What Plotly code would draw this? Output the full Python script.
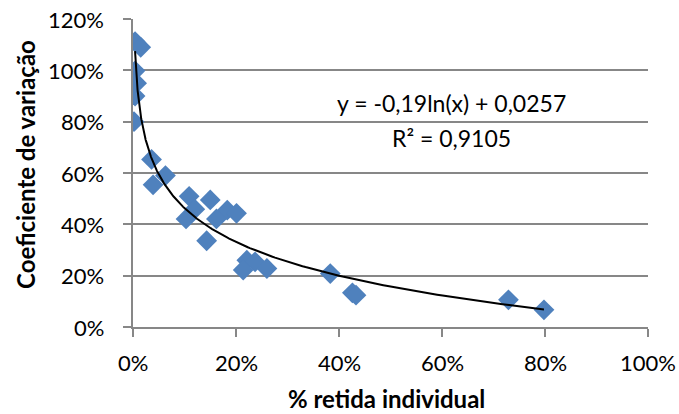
import numpy as np
import plotly.graph_objects as go

# % retida individual (fraction) and coeficiente de variação (fraction)
retida = [0.004, 0.015, 0.004, 0.007, 0.004, 0.002, 0.036, 0.063, 0.039, 0.109,
          0.150, 0.120, 0.183, 0.201, 0.162, 0.103, 0.143, 0.221, 0.237, 0.214,
          0.260, 0.383, 0.426, 0.433, 0.729, 0.798]
cv = [1.112, 1.090, 0.998, 0.950, 0.900, 0.800, 0.653, 0.590, 0.554, 0.509,
      0.495, 0.459, 0.455, 0.443, 0.421, 0.421, 0.336, 0.260, 0.254, 0.222,
      0.228, 0.208, 0.133, 0.124, 0.106, 0.067]

# logarithmic trendline y = a*ln(x) + b
coef_a = -0.19
coef_b = 0.0257
r2 = 0.9105
trend_start = 0.004
trend_end = max(retida)

x_ticks = [0, 0.2, 0.4, 0.6, 0.8, 1.0]
y_ticks = [0, 0.2, 0.4, 0.6, 0.8, 1.0, 1.2]
x_tick_labels = ["0%", "20%", "40%", "60%", "80%", "100%"]
y_tick_labels = ["0%", "20%", "40%", "60%", "80%", "100%", "120%"]

tx = np.exp(np.linspace(np.log(trend_start), np.log(trend_end), 300))
ty = coef_a * np.log(tx) + coef_b

font_family = "Lato, Carlito, Calibri, sans-serif"
grid_col = "#878787"
label_size = 22

fig = go.Figure()
fig.add_trace(go.Scatter(
    x=retida, y=cv, mode="markers",
    marker=dict(symbol="diamond", size=16, color="#4F81BD",
                line=dict(width=0)),
    showlegend=False, hoverinfo="x+y"))
fig.add_trace(go.Scatter(
    x=tx, y=ty, mode="lines",
    line=dict(color="black", width=2),
    showlegend=False, hoverinfo="skip"))

eq_text = "y = {:.2f}ln(x) + {:.4f}".format(coef_a, coef_b).replace(".", ",")
r2_text = "R² = {:.4f}".format(r2).replace(".", ",")

# tick labels placed on the axis scales with a wider gap than the default
annotations = []
for v, t in zip(x_ticks, x_tick_labels):
    annotations.append(dict(text=t, x=v, xref="x", y=-0.114, yref="paper",
                            showarrow=False, xanchor="center", yanchor="middle",
                            font=dict(size=label_size)))
for v, t in zip(y_ticks, y_tick_labels):
    annotations.append(dict(text=t, x=-0.052, xref="paper", y=v, yref="y",
                            showarrow=False, xanchor="right", yanchor="middle",
                            font=dict(size=label_size)))

annotations += [
    dict(text=eq_text, xref="paper", yref="paper",
         x=0.618, y=0.727, showarrow=False, xanchor="center",
         yanchor="middle", font=dict(size=23)),
    dict(text=r2_text, xref="paper", yref="paper",
         x=0.618, y=0.614, showarrow=False, xanchor="center",
         yanchor="middle", font=dict(size=23)),
    dict(text="<b>% retida individual</b>", xref="paper", yref="paper",
         x=0.493, y=-0.231, showarrow=False, xanchor="center",
         yanchor="middle", font=dict(size=24)),
    dict(text="<b>Coeficiente de variação</b>", xref="paper", yref="paper",
         x=-0.210, y=0.529, textangle=-90, showarrow=False,
         xanchor="center", yanchor="middle", font=dict(size=24)),
]

fig.update_layout(
    width=679, height=414,
    margin=dict(l=133, r=31, t=19, b=87, autoexpand=False),
    paper_bgcolor="white", plot_bgcolor="white",
    font=dict(family=font_family, size=22, color="black"),
    xaxis=dict(
        range=[0, 1.0], tickvals=x_ticks, showticklabels=False,
        showgrid=False, zeroline=False, automargin=False,
        showline=True, linecolor=grid_col, linewidth=1.5,
        ticks="outside", ticklen=8, tickwidth=1.5, tickcolor=grid_col,
    ),
    yaxis=dict(
        range=[0, 1.2], tickvals=y_ticks, showticklabels=False,
        showgrid=True, gridcolor=grid_col, gridwidth=1.5,
        zeroline=False, automargin=False,
        showline=True, linecolor=grid_col, linewidth=1.5,
        ticks="outside", ticklen=8, tickwidth=1.5, tickcolor=grid_col,
    ),
    annotations=annotations,
)

fig.write_html("out.html")
